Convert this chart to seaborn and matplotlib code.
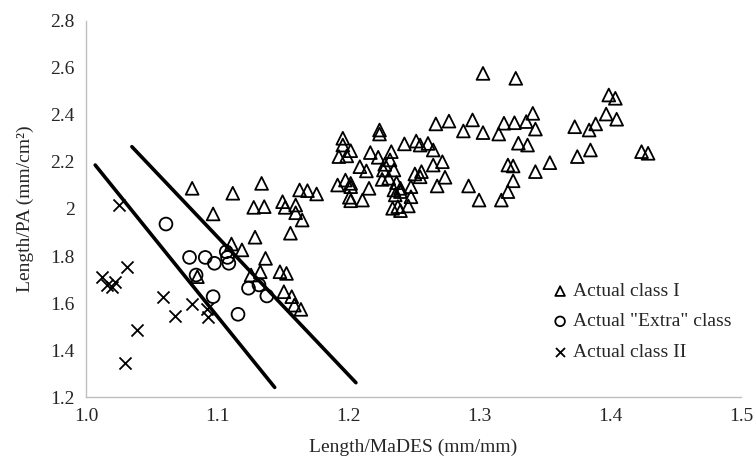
import matplotlib
matplotlib.use("Agg")
import matplotlib.pyplot as plt
import seaborn as sns

# Actual class I (triangles)
class1_x = [1.081, 1.097, 1.112, 1.134, 1.128, 1.136, 1.150, 1.152, 1.160, 1.160, 1.165, 1.156,
            1.163, 1.169, 1.176, 1.111, 1.119, 1.129, 1.137, 1.085, 1.126, 1.133, 1.148, 1.153,
            1.151, 1.157, 1.159, 1.164,
            1.303, 1.267, 1.277, 1.295, 1.288, 1.303, 1.224, 1.224, 1.196, 1.196, 1.202, 1.193,
            1.199, 1.217, 1.223, 1.233, 1.243, 1.252, 1.255, 1.261, 1.265, 1.272, 1.265, 1.209,
            1.214, 1.228, 1.232, 1.227, 1.235, 1.251, 1.256, 1.255, 1.274, 1.226, 1.231, 1.237,
            1.192, 1.198, 1.202, 1.202, 1.216, 1.235, 1.240, 1.248, 1.268, 1.292, 1.201, 1.202,
            1.211, 1.236, 1.240, 1.248, 1.234, 1.238, 1.240, 1.246, 1.300,
            1.328, 1.399, 1.404, 1.397, 1.405, 1.341, 1.319, 1.327, 1.336, 1.343, 1.315, 1.373,
            1.389, 1.384, 1.330, 1.337, 1.385, 1.375, 1.354, 1.322, 1.326, 1.343, 1.424, 1.429,
            1.326, 1.322, 1.317]
class1_y = [2.088, 1.979, 2.067, 2.109, 2.007, 2.010, 2.031, 2.007, 2.017, 1.984, 1.953, 1.897,
            2.081, 2.078, 2.064, 1.851, 1.826, 1.880, 1.790, 1.712, 1.719, 1.733, 1.733, 1.726,
            1.648, 1.627, 1.591, 1.573,
            2.577, 2.362, 2.374, 2.379, 2.332, 2.325, 2.336, 2.319, 2.301, 2.272, 2.248, 2.223,
            2.226, 2.240, 2.220, 2.244, 2.277, 2.289, 2.272, 2.279, 2.251, 2.201, 2.187, 2.180,
            2.162, 2.190, 2.209, 2.166, 2.166, 2.149, 2.159, 2.137, 2.135, 2.126, 2.131, 2.112,
            2.102, 2.123, 2.109, 2.095, 2.088, 2.081, 2.088, 2.095, 2.098, 2.098, 2.050, 2.035,
            2.038, 2.060, 2.074, 2.052, 2.003, 2.010, 1.993, 2.013, 2.038,
            2.556, 2.485, 2.471, 2.404, 2.382, 2.407, 2.365, 2.367, 2.372, 2.340, 2.319, 2.350,
            2.362, 2.336, 2.280, 2.272, 2.251, 2.223, 2.197, 2.187, 2.183, 2.159, 2.244, 2.237,
            2.120, 2.074, 2.038]

# Actual "Extra" class (circles)
extra_x = [1.061, 1.079, 1.091, 1.098, 1.084, 1.097, 1.107, 1.108, 1.109, 1.116, 1.124, 1.132, 1.138]
extra_y = [1.936, 1.794, 1.794, 1.769, 1.719, 1.627, 1.818, 1.794, 1.769, 1.552, 1.663, 1.677, 1.630]

# Actual class II (crosses)
class2_x = [1.025, 1.012, 1.016, 1.020, 1.022, 1.031, 1.039, 1.030, 1.059, 1.068, 1.081, 1.092, 1.093]
class2_y = [2.017, 1.712, 1.677, 1.669, 1.691, 1.754, 1.485, 1.343, 1.627, 1.545, 1.596, 1.574, 1.540]

# separating lines
line1_x = [1.007, 1.144]
line1_y = [2.187, 1.241]
line2_x = [1.035, 1.206]
line2_y = [2.265, 1.261]

xticks = [1.0, 1.1, 1.2, 1.3, 1.4, 1.5]
xtick_labels = ["1.0", "1.1", "1.2", "1.3", "1.4", "1.5"]
yticks = [1.2, 1.4, 1.6, 1.8, 2.0, 2.2, 2.4, 2.6, 2.8]
ytick_labels = ["1.2", "1.4", "1.6", "1.8", "2", "2.2", "2.4", "2.6", "2.8"]

sns.set_style("white")
plt.rcParams['font.family'] = ['Liberation Serif', 'DejaVu Serif']

fig = plt.figure(figsize=(7.56, 4.63), dpi=100)
ax = fig.add_axes([0.1138, 0.1425, 0.8665, 0.8122])

ms = 85
sns.scatterplot(x=class1_x, y=class1_y, marker='^', s=ms, color='black', facecolor='none',
                edgecolor='black', linewidth=1.3, ax=ax, label='Actual class I')
sns.scatterplot(x=extra_x, y=extra_y, marker='o', s=ms, color='black', facecolor='none',
                edgecolor='black', linewidth=1.3, ax=ax, label='Actual "Extra" class')
sns.scatterplot(x=class2_x, y=class2_y, marker='x', s=75, color='black',
                linewidth=1.3, ax=ax, label='Actual class II')

sns.lineplot(x=line1_x, y=line1_y, color='black', linewidth=2.6, ax=ax)
sns.lineplot(x=line2_x, y=line2_y, color='black', linewidth=2.6, ax=ax)

ax.set_xlim(1.0, 1.5)
ax.set_ylim(1.2, 2.8)
ax.set_xticks(xticks)
ax.set_xticklabels(xtick_labels)
ax.set_yticks(yticks)
ax.set_yticklabels(ytick_labels)
ax.tick_params(axis='both', labelsize=14, length=4, color='#bfbfbf', width=1, pad=4)

for s in ['top', 'right']:
    ax.spines[s].set_visible(False)
for s in ['left', 'bottom']:
    ax.spines[s].set_color('#bfbfbf')
    ax.spines[s].set_linewidth(1)

ax.set_xlabel('Length/MaDES (mm/mm)', fontsize=14, labelpad=10)
ax.set_ylabel('Length/PA (mm/cm²)', fontsize=14, labelpad=12)

ax.legend(loc='upper left', bbox_to_anchor=(0.694, 0.325), frameon=False, fontsize=14,
          handletextpad=0.05, labelspacing=0.65, markerscale=0.75, borderaxespad=0,
          handlelength=1.2)

fig.savefig('out.png', dpi=100)
